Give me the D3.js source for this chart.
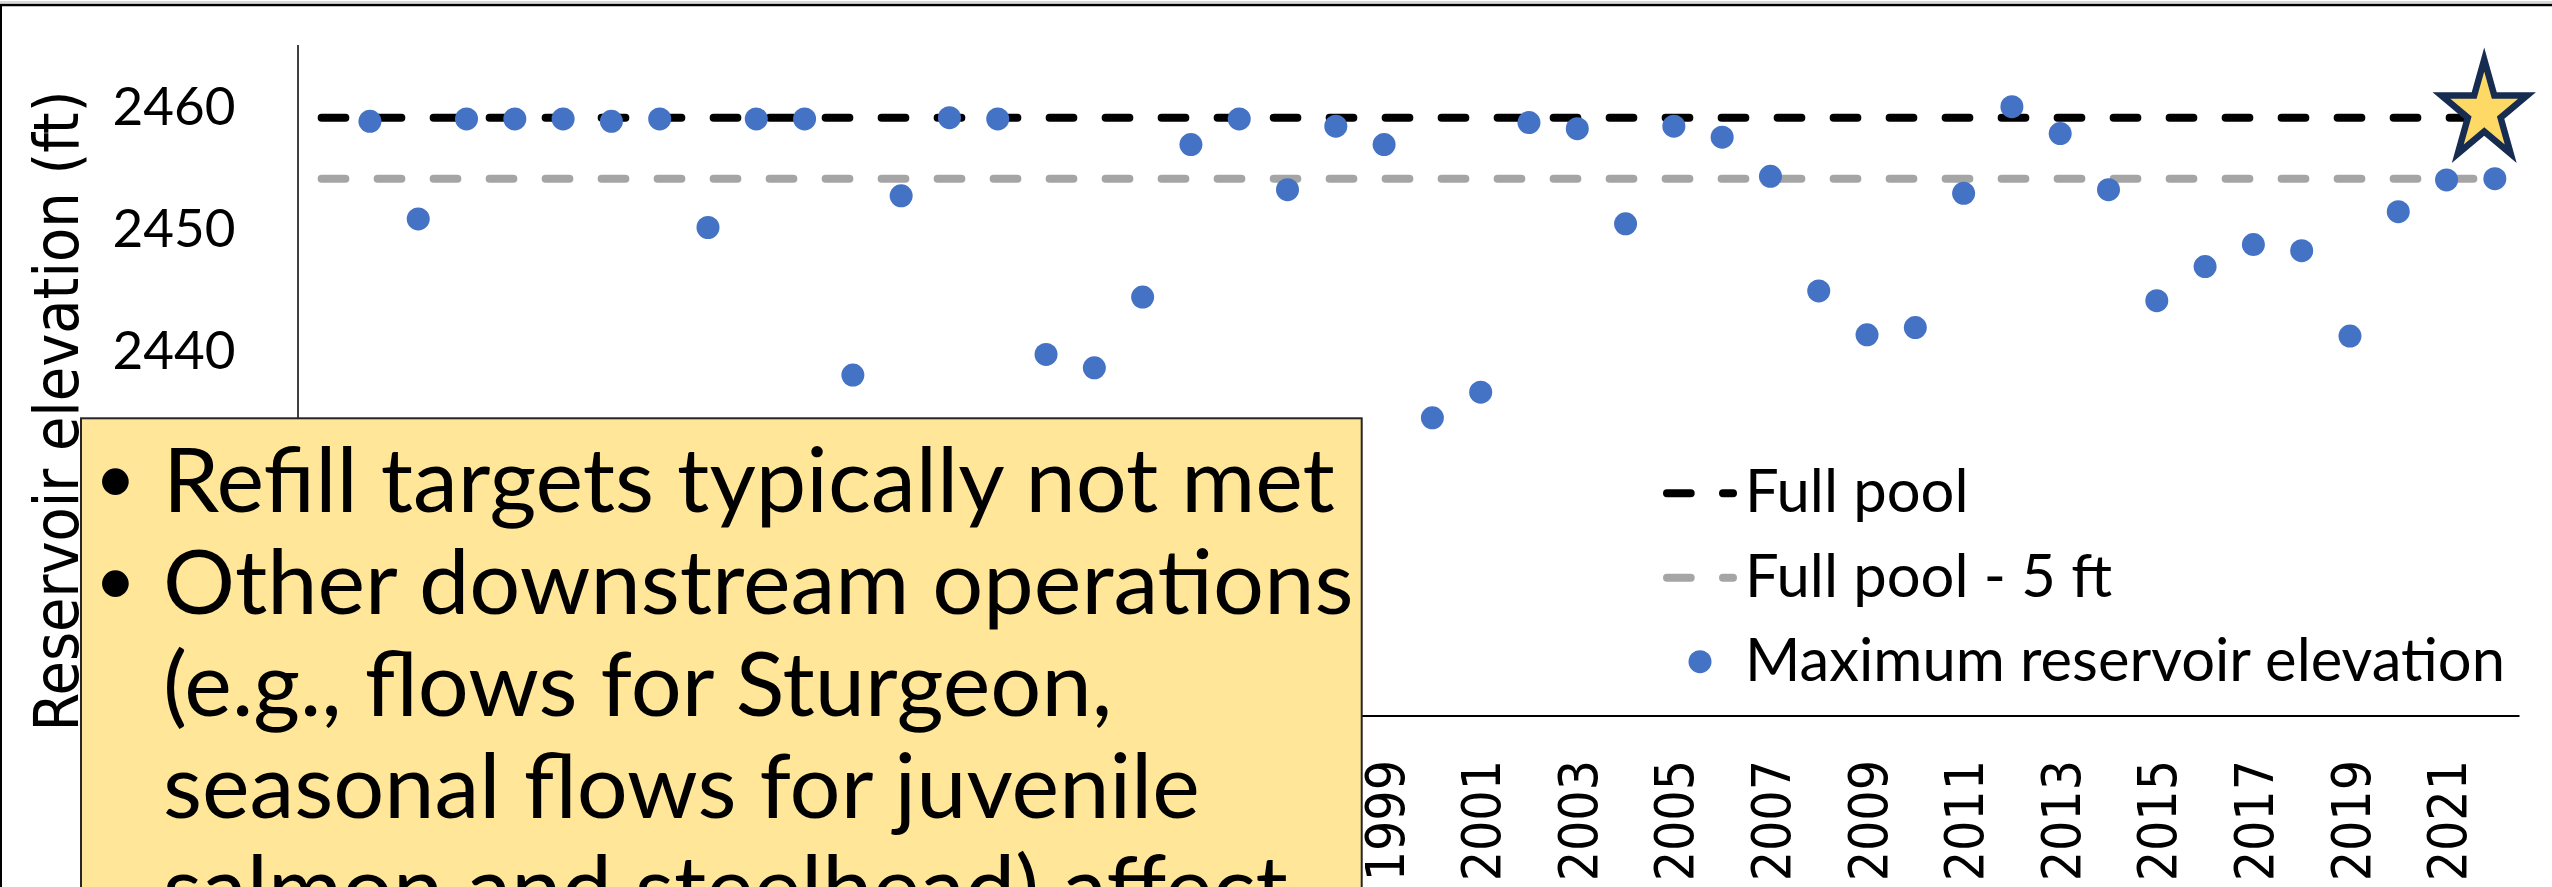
<!DOCTYPE html>
<html>
<head>
<meta charset="utf-8">
<script src="https://cdn.jsdelivr.net/npm/d3@7"></script>
<style>
html, body { margin: 0; padding: 0; background: #fff; overflow: hidden; }
svg { display: block; }
</style>
</head>
<body>
<div id="container"></div>
<script>
// chart data
let years = [1978, 1979, 1980, 1981, 1982, 1983, 1984, 1985, 1986, 1987,
             1988, 1989, 1990, 1991, 1992, 1993, 1994, 1995, 1996, 1997,
             1998, 1999, 2000, 2001, 2002, 2003, 2004, 2005, 2006, 2007,
             2008, 2009, 2010, 2011, 2012, 2013, 2014, 2015, 2016, 2017,
             2018, 2019, 2020, 2021, 2022];
let maxElevation = [2458.7, 2450.7, 2458.9, 2458.9, 2458.9, 2458.7, 2458.9, 2450.0, 2458.9, 2458.9,
                    2437.9, 2452.6, 2459.0, 2458.9, 2439.6, 2438.5, 2444.3, 2456.8, 2458.9, 2453.1,
                    2458.3, 2456.8, 2434.4, 2436.5, 2458.6, 2458.1, 2450.3, 2458.3, 2457.4, 2454.2,
                    2444.8, 2441.2, 2441.8, 2452.8, 2459.9, 2457.7, 2453.1, 2444.0, 2446.8, 2448.6,
                    2448.1, 2441.1, 2451.3, 2453.9, 2454.0];
let refYears = [1977, 2022];
let fullPool = [2459, 2459];
let fullPoolMinus5 = [2454, 2454];
// only the ticks not hidden by the note box
let yTicks = [2440, 2450, 2460];
let xTicks = [1999, 2001, 2003, 2005, 2007, 2009, 2011, 2013, 2015, 2017, 2019, 2021];
let legendLabels = ["Full pool", "Full pool - 5 ft", "Maximum reservoir elevation"];
let noteLines = [
    {bullet: true,  text: "Refill targets typically not met"},
    {bullet: true,  text: "Other downstream operations"},
    {bullet: false, text: "(e.g., flows for Sturgeon,"},
    {bullet: false, text: "seasonal flows for juvenile"},
    {bullet: false, text: "salmon and steelhead) affect"}
];
let starYear = 2021.78;
let starElev = 2459.5;
let yTitle = "Reservoir elevation (ft)";

// layout
let width = 2552;
let height = 887;
let blue = "#4472C4";
let gray = "#A5A5A5";
let sansFont = "Lato, 'Open Sans', sans-serif";
let condFont = "'DejaVu Sans Condensed', 'DejaVu Sans', sans-serif";

function fitText(sel, target) {
    let w = sel.node().getComputedTextLength();
    let fs = parseFloat(sel.attr("font-size"));
    sel.attr("font-size", (fs * target / w).toFixed(2));
}

function starPath(cx, cy, rx, ry) {
    let pts = [];
    for (let i = 0; i < 10; i++) {
        let a = i * Math.PI / 5;
        let r = (i % 2) ? 0.382 : 1;
        pts.push([cx + rx * r * Math.sin(a), cy - ry * r * Math.cos(a)]);
    }
    return d3.line().curve(d3.curveLinearClosed)(pts);
}

function drawChart() {
    let svg = d3.select("#container").append("svg")
        .attr("width", width)
        .attr("height", height);

    svg.append("rect").attr("width", width).attr("height", height).attr("fill", "#fff");

    let x = d3.scaleLinear().domain([1976.5, 2022.5]).range([297.5, 2519]);
    let y = d3.scaleLinear().domain([2410, 2465]).range([715.5, 44.5]);

    // axes
    let yAxis = svg.append("g")
        .attr("transform", "translate(" + x(1976.5) + ",0)")
        .call(d3.axisLeft(y).tickValues(yTicks).tickSize(0).tickSizeOuter(0).tickPadding(62).tickFormat(d3.format("d")));
    yAxis.select(".domain").attr("stroke", "#000").attr("stroke-width", 1.5);
    yAxis.selectAll("text")
        .attr("font-family", sansFont)
        .attr("font-size", 53)
        .attr("fill", "#000")
        .attr("dy", "0.36em");

    let xAxis = svg.append("g")
        .attr("transform", "translate(0," + y(2410) + ")")
        .call(d3.axisBottom(x).tickValues(xTicks).tickSize(0).tickSizeOuter(0).tickFormat(d3.format("d")));
    xAxis.select(".domain").attr("stroke", "#000").attr("stroke-width", 2.2);
    xAxis.selectAll("text")
        .attr("font-family", condFont)
        .attr("font-size", 53)
        .attr("fill", "#000")
        .attr("transform", "rotate(-90)")
        .attr("x", -44.5)
        .attr("y", 0)
        .attr("dy", "0.36em")
        .style("text-anchor", "end");

    svg.append("text")
        .attr("transform", "translate(78," + 411 + ") rotate(-90)")
        .attr("text-anchor", "middle")
        .attr("font-family", condFont)
        .attr("font-size", 60)
        .attr("fill", "#000")
        .text(yTitle)
        .call(fitText, 641);

    // reference lines
    let line = d3.line().x(function(d) { return x(d[0]); }).y(function(d) { return y(d[1]); });
    let refs = [
        {vals: fullPool, color: "#000"},
        {vals: fullPoolMinus5, color: gray}
    ];
    refs.forEach(function(r) {
        svg.append("path")
            .attr("d", line(refYears.map(function(yr, i) { return [yr, r.vals[i]]; })))
            .attr("fill", "none")
            .attr("stroke", r.color)
            .attr("stroke-width", 8)
            .attr("stroke-linecap", "round")
            .attr("stroke-dasharray", "23.7 32.3");
    });

    // dots
    svg.append("g").selectAll("circle")
        .data(years)
        .enter().append("circle")
        .attr("cx", function(d) { return x(d); })
        .attr("cy", function(d, i) { return y(maxElevation[i]); })
        .attr("r", 11.5)
        .attr("fill", blue);

    // star
    svg.append("path")
        .attr("d", starPath(x(starYear), y(starElev), 45, 52))
        .attr("fill", "#FFD966")
        .attr("stroke", "#172C51")
        .attr("stroke-width", 6.5)
        .attr("stroke-linejoin", "miter");

    // legend
    let lg = svg.append("g");
    let legendY = [493.3, 577.7, 661.7];
    ["#000", gray].forEach(function(c, i) {
        lg.append("line")
            .attr("x1", 1667).attr("x2", 1733)
            .attr("y1", legendY[i]).attr("y2", legendY[i])
            .attr("stroke", c)
            .attr("stroke-width", 8)
            .attr("stroke-linecap", "round")
            .attr("stroke-dasharray", "23.7 32.3");
    });
    lg.append("circle").attr("cx", 1700).attr("cy", legendY[2]).attr("r", 11.5).attr("fill", blue);
    let legendTexts = lg.selectAll("text.leg")
        .data(legendLabels)
        .enter().append("text")
        .attr("class", "leg")
        .attr("x", 1745)
        .attr("y", function(d, i) { return legendY[i] + 19; })
        .attr("font-family", sansFont)
        .attr("font-size", 57)
        .attr("fill", "#000")
        .text(function(d) { return d; });
    let lastLeg = d3.select(legendTexts.nodes()[2]);
    fitText(lastLeg, 760);
    legendTexts.attr("font-size", lastLeg.attr("font-size"));

    // note box
    let box = svg.append("g");
    box.append("rect")
        .attr("x", 81).attr("y", 418.3)
        .attr("width", 1280.7).attr("height", 520)
        .attr("fill", "#FFE699")
        .attr("stroke", "#262626")
        .attr("stroke-width", 2);
    let noteTexts = box.selectAll("text.note")
        .data(noteLines)
        .enter().append("text")
        .attr("class", "note")
        .attr("x", 163)
        .attr("y", function(d, i) { return 511.7 + i * 102; })
        .attr("font-family", sansFont)
        .attr("font-size", 86)
        .attr("fill", "#000")
        .text(function(d) { return d.text; });
    let firstNote = d3.select(noteTexts.nodes()[0]);
    fitText(firstNote, 1172);
    noteTexts.attr("font-size", firstNote.attr("font-size"));
    box.selectAll("text.bullet")
        .data(noteLines.filter(function(d) { return d.bullet; }))
        .enter().append("text")
        .attr("class", "bullet")
        .attr("x", 115.5)
        .attr("y", function(d, i) { return 511.7 - 9 + i * 102; })
        .attr("text-anchor", "middle")
        .attr("font-family", sansFont)
        .attr("font-size", 72)
        .attr("fill", "#000")
        .text("\u2022");

    // frame
    svg.append("line").attr("x1", 0).attr("x2", width).attr("y1", 2).attr("y2", 2)
        .attr("stroke", "#d9d9d9").attr("stroke-width", 2);
    svg.append("line").attr("x1", 0).attr("x2", width).attr("y1", 5).attr("y2", 5)
        .attr("stroke", "#000").attr("stroke-width", 2.5);
    svg.append("line").attr("x1", 1).attr("x2", 1).attr("y1", 4).attr("y2", height)
        .attr("stroke", "#000").attr("stroke-width", 2);
}

document.addEventListener("DOMContentLoaded", function() {
    if (document.fonts && document.fonts.ready) {
        document.fonts.ready.then(drawChart);
    } else {
        drawChart();
    }
});
</script>
</body>
</html>
